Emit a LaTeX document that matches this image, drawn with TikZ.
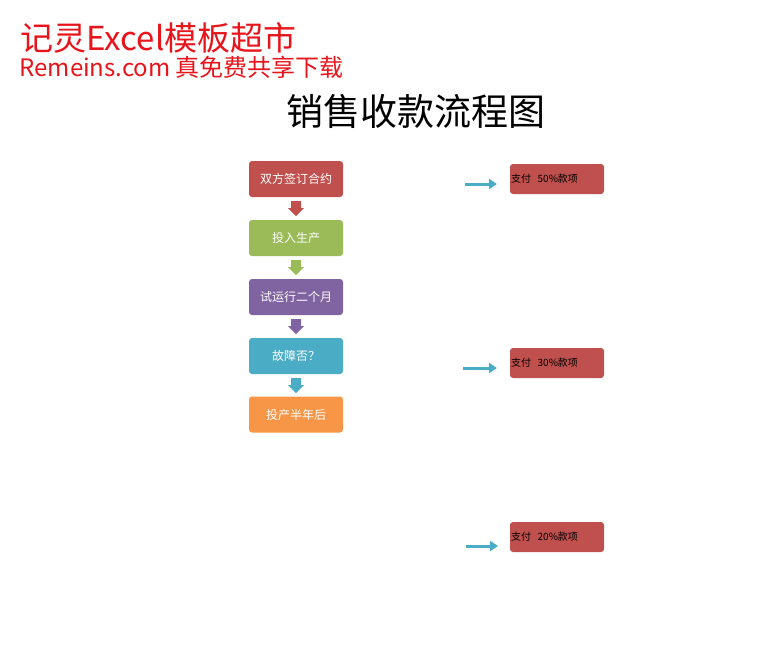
\documentclass[tikz,border=0pt]{standalone}
\usepackage{fontspec}
\newfontfamily\cjk{Noto Sans CJK SC}
\usetikzlibrary{arrows.meta,calc}
\definecolor{cred}{HTML}{C0504D}
\definecolor{cgreen}{HTML}{9BBB59}
\definecolor{cpurple}{HTML}{8064A2}
\definecolor{ccyan}{HTML}{4BACC6}
\definecolor{corange}{HTML}{F79646}
\definecolor{wm}{HTML}{E8141B}
\tikzset{
  stepbox/.style={minimum width=94pt,minimum height=36pt,rounded corners=3pt,inner sep=0pt,text=white,font=\cjk\fontsize{12}{12}\selectfont},
  paybox/.style={fill=cred,minimum width=94pt,minimum height=30pt,rounded corners=3pt,inner sep=0pt,font=\cjk\fontsize{10}{10}\selectfont},
  conn/.style={draw=ccyan,line width=3pt,-{Triangle[length=8pt,width=10pt]}}
}
\begin{document}
\begin{tikzpicture}[x=1pt,y=-1pt]
\useasboundingbox (0,0) rectangle (784,649);
\node[wm,anchor=west,font=\cjk\fontsize{33}{33}\selectfont] (w1) at (17,38) {记灵Excel模板超市};
\node[wm,anchor=west,font=\cjk\fontsize{24}{24}\selectfont] (w2) at (16,67) {Remeins.com 真免费共享下载};
\node[font=\cjk\fontsize{37}{37}\selectfont] (title) at (416,111) {销售收款流程图};
\node[stepbox,fill=cred] (s1) at (296,179) {双方签订合约};
\node[stepbox,fill=cgreen] (s2) at (296,238) {投入生产};
\node[stepbox,fill=cpurple] (s3) at (296,297) {试运行二个月};
\node[stepbox,fill=ccyan] (s4) at (296,356) {故障否？};
\node[stepbox,fill=corange] (s5) at (296,414.5) {投产半年后};
\coordinate (a1) at (296,208.5); \coordinate (a2) at (296,267.5);
\coordinate (a3) at (296,326.5); \coordinate (a4) at (296,385.5);
\fill[cred] ($(a1)+(-5,-7.5)$) -- ++(10,0) -- ++(0,7) -- ++(3,0) -- ++(-8,8) -- ++(-8,-8) -- ++(3,0) -- cycle;
\fill[cgreen] ($(a2)+(-5,-7.5)$) -- ++(10,0) -- ++(0,7) -- ++(3,0) -- ++(-8,8) -- ++(-8,-8) -- ++(3,0) -- cycle;
\fill[cpurple] ($(a3)+(-5,-7.5)$) -- ++(10,0) -- ++(0,7) -- ++(3,0) -- ++(-8,8) -- ++(-8,-8) -- ++(3,0) -- cycle;
\fill[ccyan] ($(a4)+(-5,-7.5)$) -- ++(10,0) -- ++(0,7) -- ++(3,0) -- ++(-8,8) -- ++(-8,-8) -- ++(3,0) -- cycle;
\node[paybox,text width=92pt,align=left] (p1) at (557,179) {支付\ \ 50\%款项};
\node[paybox,text width=92pt,align=left] (p2) at (557,363) {支付\ \ 30\%款项};
\node[paybox,text width=92pt,align=left] (p3) at (557,537) {支付\ \ 20\%款项};
\coordinate (c1) at (465,184); \coordinate (e1) at (497,184);
\coordinate (c2) at (463,368); \coordinate (e2) at (497,368);
\coordinate (c3) at (466,546); \coordinate (e3) at (498,546);
\draw[conn] (c1) -- (e1);
\draw[conn] (c2) -- (e2);
\draw[conn] (c3) -- (e3);
\end{tikzpicture}
\end{document}
